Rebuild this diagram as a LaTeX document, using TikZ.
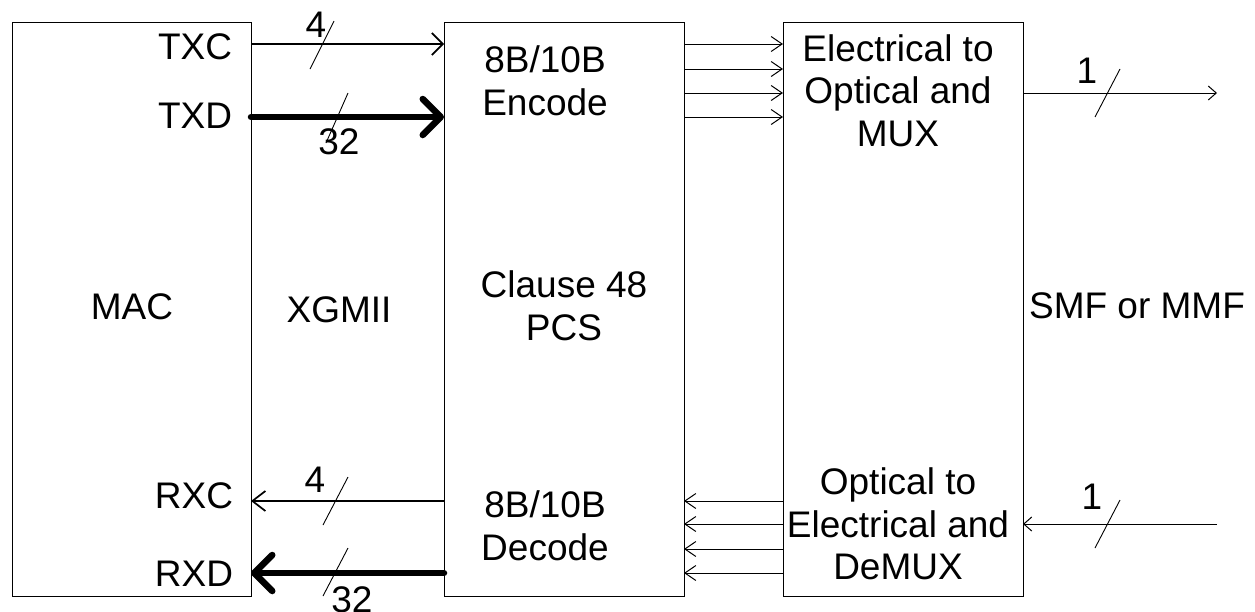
\documentclass[tikz,border=0pt]{standalone}
\usepackage{fontspec}
\setmainfont{Liberation Sans}
\usetikzlibrary{arrows.meta}
\begin{document}
\begin{tikzpicture}[x=1pt,y=-1pt,
  box/.style={draw=black, line width=1pt, inner sep=0pt, outer sep=0pt},
  lbl/.style={inner sep=0pt, outer sep=0pt, font=\fontsize{37pt}{42.5pt}\selectfont, align=center},
  thin/.style={line width=1pt, -{Straight Barb[length=11pt,width=15pt]}},
  clk/.style={line width=1.7pt, -{Straight Barb[length=11pt,width=22pt]}},
  bus/.style={line width=6.5pt, line cap=round, -{Straight Barb[length=18pt,width=36pt,round]}},
  slash/.style={line width=0.9pt}
]
\useasboundingbox (0,0) rectangle (1255,611);
% boxes
\node[box, minimum width=239pt, minimum height=574pt] (mac) at (131.5,309) {};
\node[box, minimum width=240pt, minimum height=574pt] (pcs) at (564,309) {};
\node[box, minimum width=240pt, minimum height=574pt] (eo) at (903,309) {};
% rows
\coordinate (r1) at (0,44);
\coordinate (r2) at (0,69);
\coordinate (r3) at (0,93);
\coordinate (r4) at (0,117);
\coordinate (b1) at (0,501);
\coordinate (b2) at (0,524);
\coordinate (b3) at (0,549);
\coordinate (b4) at (0,573);
\coordinate (outend) at (1217,93);
\coordinate (inend) at (1217,524);
% labels
\node[lbl] (maclbl) at (132,307) {MAC};
\node[lbl] (xgmii) at (339,310) {XGMII};
\node[lbl] (pcslbl) at (564,306) {Clause 48\\PCS};
\node[lbl] (fiber) at (1137,306) {SMF or MMF};
\node[lbl] (enc) at (545,81) {8B/10B\\Encode};
\node[lbl] (dec) at (545,526) {8B/10B\\Decode};
\node[lbl] (eolbl) at (898,90.5) {Electrical to\\Optical and\\MUX};
\node[lbl] (oelbl) at (898,524) {Optical to\\Electrical and\\DeMUX};
\node[lbl, anchor=east] (txc) at (232,46.5) {TXC};
\node[lbl, anchor=east] (txd) at (232,116) {TXD};
\node[lbl, anchor=east] (rxc) at (233,496) {RXC};
\node[lbl, anchor=east] (rxd) at (233,574) {RXD};
\node[lbl] (n4a) at (316,25) {4};
\node[lbl] (n32a) at (339,141.5) {32};
\node[lbl] (n4b) at (315,480) {4};
\node[lbl] (n32b) at (352,600) {32};
\node[lbl] (n1a) at (1087,71) {1};
\node[lbl] (n1b) at (1092,497) {1};
% transmit side
\draw[clk] (mac.east |- r1) -- (pcs.west |- r1);
\draw[bus] (mac.east |- r4) -- (pcs.west |- r4);
\foreach \r in {r1,r2,r3,r4}
  \draw[thin] (pcs.east |- \r) -- (eo.west |- \r);
\draw[thin, -{Straight Barb[length=8pt,width=14pt]}] (eo.east |- r3) -- (outend);
% receive side
\draw[clk, -{Straight Barb[length=13pt,width=20pt]}] (pcs.west |- b1) -- (mac.east |- b1);
\draw[bus] (pcs.west |- b4) -- (mac.east |- b4);
\foreach \r in {b1,b2,b3,b4}
  \draw[thin] (eo.west |- \r) -- (pcs.east |- \r);
\draw[thin, -{Straight Barb[length=8pt,width=14pt]}] (inend) -- (eo.east |- b2);
% bus width slashes
\draw[slash] (310,69) -- (334,21);
\draw[slash] (326,143) -- (348,93);
\draw[slash] (323,525) -- (348,477);
\draw[slash] (323,596) -- (348,548);
\draw[slash] (1095,117) -- (1120,69);
\draw[slash] (1095,548) -- (1120,500);
\end{tikzpicture}
\end{document}
